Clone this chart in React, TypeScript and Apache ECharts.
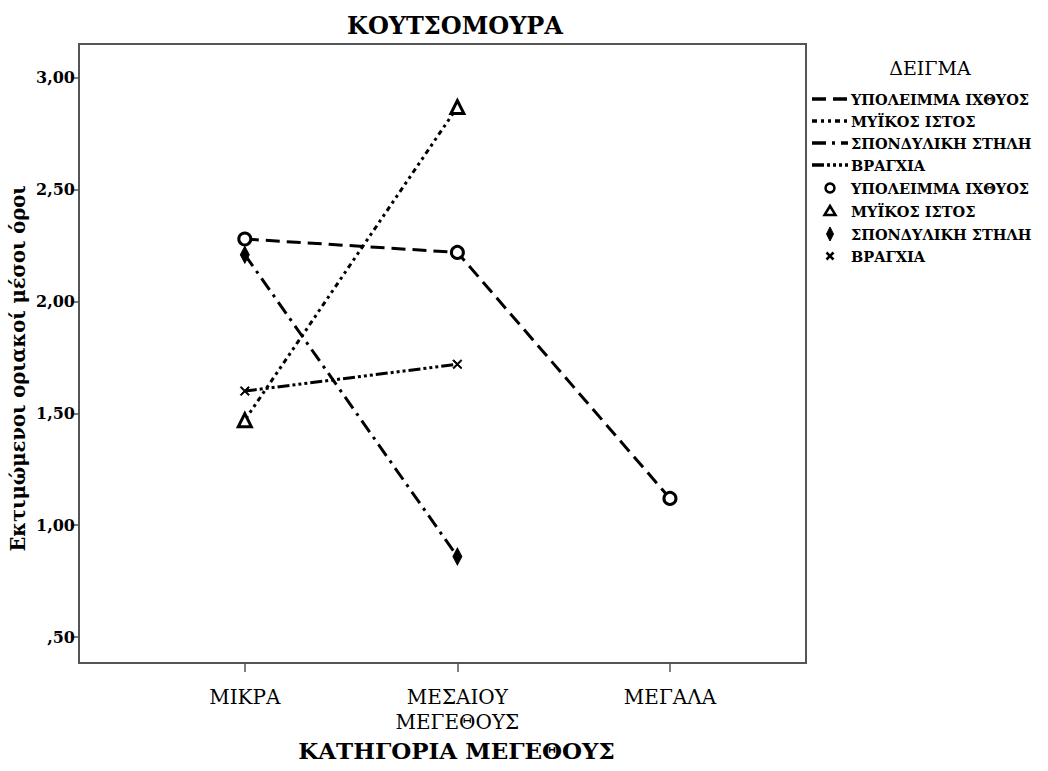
import React, { useEffect, useRef } from "react";
import * as echarts from "echarts";

const categories = ["ΜΙΚΡΑ", "ΜΕΣΑΙΟΥ\nΜΕΓΕΘΟΥΣ", "ΜΕΓΑΛΑ"];
const seriesNames = ["ΥΠΟΛΕΙΜΜΑ ΙΧΘΥΟΣ", "ΜΥΪΚΟΣ ΙΣΤΟΣ", "ΣΠΟΝΔΥΛΙΚΗ ΣΤΗΛΗ", "ΒΡΑΓΧΙΑ"];
const fishRemains = [2.28, 2.22, 1.12];
const muscle = [1.47, 2.87, null];
const spine = [2.21, 0.86, null];
const gills = [1.6, 1.72, null];
const yTicks = [0.5, 1, 1.5, 2, 2.5, 3];
const xTicks = [0, 1, 2];

const FONT = "DejaVu Serif";
const dashes: number[][] = [
  [14, 7],
  [5, 4, 3, 4, 3, 4],
  [14, 6, 3, 6],
  [12, 3, 3, 3, 3, 3, 3, 3],
];

const crossPath = "path://M1,0 L5,4 L9,0 L10,1 L6,5 L10,9 L9,10 L5,6 L1,10 L0,9 L4,5 L0,1 Z";
const diamondPath = "path://M5,0 L9,9 L5,18 L1,9 Z";

export default function App() {
  const ref = useRef<HTMLDivElement>(null);
  useEffect(() => {
    const chart = echarts.init(ref.current!, null, { renderer: "svg" });
    const toPts = (arr: (number | null)[]) =>
      arr.map((v, i) => (v == null ? null : [i, v])).filter((p) => p !== null);
    const symbols = [
      { symbol: "circle", symbolSize: 12, itemStyle: { color: "#fff", borderColor: "#000", borderWidth: 3 } },
      { symbol: "triangle", symbolSize: 13, itemStyle: { color: "#fff", borderColor: "#000", borderWidth: 3 } },
      { symbol: diamondPath, symbolSize: [9, 17], itemStyle: { color: "#000", borderColor: "#000", borderWidth: 1 } },
      { symbol: crossPath, symbolSize: 9, itemStyle: { color: "#000", borderColor: "#000", borderWidth: 1 } },
    ];
    const datas = [fishRemains, muscle, spine, gills];
    const series = datas.map((d, i) => ({
      name: seriesNames[i],
      type: "line",
      data: toPts(d),
      ...symbols[i],
      showSymbol: true,
      lineStyle: { color: "#000", width: 3, type: dashes[i] },
      z: 3,
    }));

    const lx1 = 812, lx2 = 848, tx = 851;
    const rows = [99, 121, 143, 165, 188, 211, 234, 256];
    const g: any[] = [];
    g.push({
      type: "text", x: 930, y: 68,
      style: { text: "ΔΕΙΓΜΑ", font: `19px "${FONT}"`, fill: "#000", align: "center", verticalAlign: "middle" },
    });
    seriesNames.forEach((n, i) => {
      g.push({
        type: "line",
        shape: { x1: lx1, y1: rows[i], x2: lx2, y2: rows[i] },
        style: { stroke: "#000", lineWidth: 3.5, lineDash: dashes[i] },
      });
      g.push({
        type: "text", x: tx, y: rows[i],
        style: { text: n, font: `bold 14.5px "${FONT}"`, fill: "#000", verticalAlign: "middle" },
      });
    });
    seriesNames.forEach((n, i) => {
      const y = rows[i + 4];
      g.push({
        type: "text", x: tx, y,
        style: { text: n, font: `bold 14.5px "${FONT}"`, fill: "#000", verticalAlign: "middle" },
      });
    });
    const mx = 830;
    g.push({ type: "circle", shape: { cx: mx, cy: rows[4], r: 4.5 }, style: { fill: "#fff", stroke: "#000", lineWidth: 2.5 } });
    g.push({
      type: "polygon",
      shape: { points: [[mx, rows[5] - 5], [mx + 5.5, rows[5] + 4], [mx - 5.5, rows[5] + 4]] },
      style: { fill: "#fff", stroke: "#000", lineWidth: 2.5 },
    });
    g.push({
      type: "polygon",
      shape: { points: [[mx, rows[6] - 7], [mx + 3.5, rows[6]], [mx, rows[6] + 7], [mx - 3.5, rows[6]]] },
      style: { fill: "#000", stroke: "#000", lineWidth: 1 },
    });
    g.push({ type: "line", shape: { x1: mx - 3.5, y1: rows[7] - 3.5, x2: mx + 3.5, y2: rows[7] + 3.5 }, style: { stroke: "#000", lineWidth: 2.5 } });
    g.push({ type: "line", shape: { x1: mx + 3.5, y1: rows[7] - 3.5, x2: mx - 3.5, y2: rows[7] + 3.5 }, style: { stroke: "#000", lineWidth: 2.5 } });

    chart.setOption({
      animation: false,
      backgroundColor: "#fff",
      title: {
        text: "ΚΟΥΤΣΟΜΟΥΡΑ",
        left: 450, top: 8, textAlign: "center",
        textStyle: { fontFamily: FONT, fontSize: 24, fontWeight: "bold", color: "#000" },
      },
      grid: {
        left: 79, right: 242, top: 44, bottom: 108,
        outerBoundsMode: "none",
        containLabel: false,
        show: true, borderColor: "#555", borderWidth: 2, backgroundColor: "#fff",
      },
      xAxis: {
        type: "value",
        min: -0.78, max: 2.64,
        name: "ΚΑΤΗΓΟΡΙΑ ΜΕΓΕΘΟΥΣ",
        nameLocation: "middle",
        nameGap: 76,
        nameMoveOverlap: false,
        nameTextStyle: { fontFamily: FONT, fontSize: 23, fontWeight: "bold", color: "#000", padding: [0, 0, 0, 28] },
        splitLine: { show: false },
        axisLine: { show: true, onZero: false, lineStyle: { color: "#555", width: 2 } },
        axisTick: { show: true, length: 9, customValues: xTicks, lineStyle: { color: "#555", width: 1.5 } },
        axisLabel: {
          customValues: xTicks,
          formatter: (v: number) => categories[Math.round(v)] ?? "",
          fontFamily: FONT, fontSize: 20, color: "#000", margin: 21, lineHeight: 25,
        },
      },
      yAxis: {
        type: "value",
        min: 0.384, max: 3.152,
        name: "Εκτιμώμενοι οριακοί μέσοι όροι",
        nameLocation: "middle",
        nameGap: 51,
        nameMoveOverlap: false,
        nameTextStyle: { fontFamily: FONT, fontSize: 19.5, fontWeight: "bold", color: "#000", padding: [0, 30, 0, 0] },
        splitLine: { show: false },
        axisLine: { show: true, onZero: false, lineStyle: { color: "#555", width: 2 } },
        axisTick: { show: true, length: 8, customValues: yTicks, lineStyle: { color: "#555", width: 1.5 } },
        axisLabel: {
          customValues: yTicks,
          formatter: (v: number) => v.toFixed(2).replace(".", ",").replace(/^0/, ""),
          fontFamily: FONT, fontSize: 16, fontWeight: "bold", color: "#000", margin: 4,
        },
      },
      graphic: g,
      series,
    });
    return () => chart.dispose();
  }, []);
  return (
    <div
      ref={ref}
      style={{ position: "fixed", left: 0, top: 0, width: 1048, height: 771, background: "#fff" }}
    />
  );
}
